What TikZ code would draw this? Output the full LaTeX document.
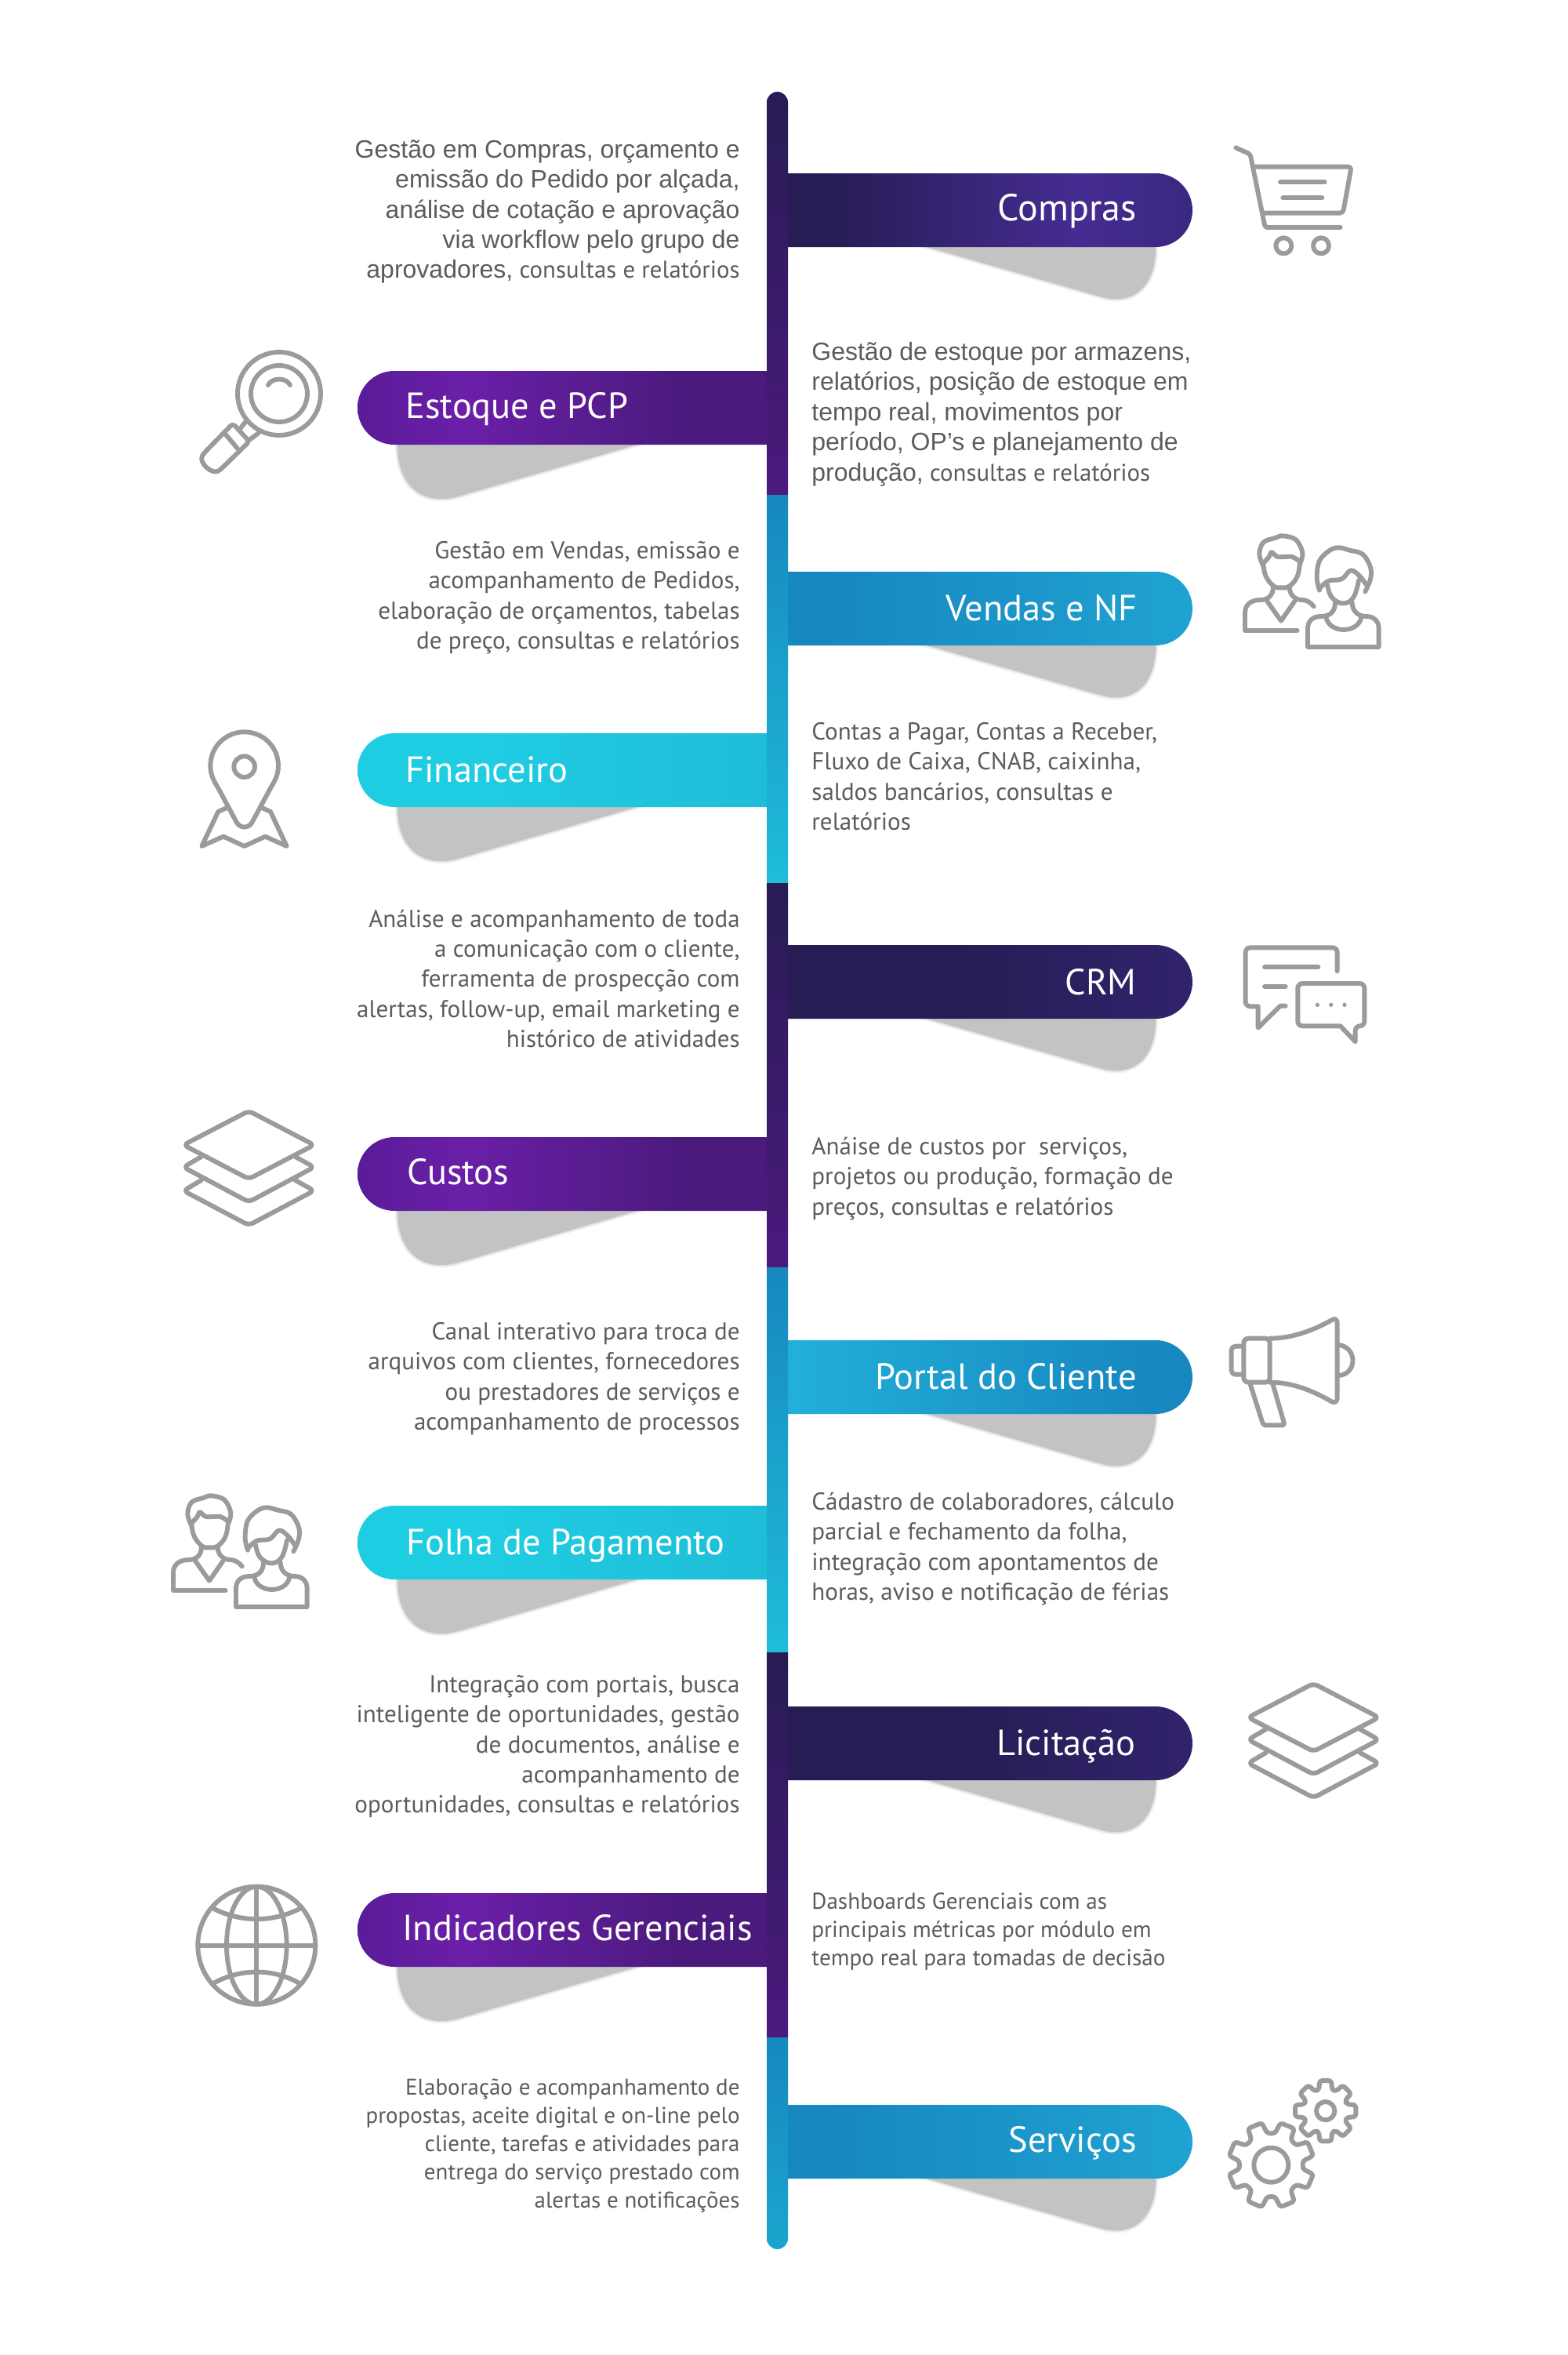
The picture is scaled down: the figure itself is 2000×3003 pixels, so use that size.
\documentclass[tikz,border=0pt]{standalone}
\usepackage{fontspec}
\setmainfont{PT Sans}
\newfontfamily\arialf{Liberation Sans}
\definecolor{icongray}{HTML}{9B9B9B}
\definecolor{shgray}{HTML}{C3C3C3}
\definecolor{txtgray}{HTML}{5C5C5C}
\definecolor{navyA}{HTML}{271C54}
\definecolor{navyB}{HTML}{452C92}
\definecolor{navyC}{HTML}{3A2880}
\definecolor{purA}{HTML}{4B1A7D}
\definecolor{purB}{HTML}{6A1FA8}
\definecolor{purC}{HTML}{5A1C98}
\definecolor{bluA}{HTML}{1787C0}
\definecolor{bluB}{HTML}{22B0D9}
\definecolor{bluC}{HTML}{1FA3D2}
\definecolor{cyaA}{HTML}{1FBDD8}
\definecolor{cyaB}{HTML}{1FCDE2}
\pgfdeclarehorizontalshading{barCompras}{100bp}{color(0bp)=(navyA);color(30bp)=(navyA);color(61bp)=(navyB);color(75bp)=(navyC);color(100bp)=(navyC)}
\pgfdeclarehorizontalshading{barCRM}{100bp}{color(0bp)=(navyA);color(45bp)=(navyA);color(75bp)=(navyC!55!navyA);color(100bp)=(navyC!55!navyA)}
\pgfdeclarehorizontalshading{barPurple}{100bp}{color(0bp)=(purC);color(25bp)=(purC);color(38bp)=(purB);color(65bp)=(purA);color(100bp)=(purA)}
\pgfdeclarehorizontalshading{barBlue}{100bp}{color(0bp)=(bluA);color(30bp)=(bluA);color(75bp)=(bluC);color(100bp)=(bluC)}
\pgfdeclarehorizontalshading{barBlueRev}{100bp}{color(0bp)=(bluB);color(25bp)=(bluB);color(70bp)=(bluA);color(100bp)=(bluA)}
\pgfdeclarehorizontalshading{barCyan}{100bp}{color(0bp)=(cyaB);color(40bp)=(cyaB);color(75bp)=(cyaA);color(100bp)=(cyaA)}
\tikzset{
  icon/.style={draw=icongray,line width=2.95pt,line cap=round,line join=round},
  zs/.style={shift={(#1)},x=0.16667pt,y=-0.16667pt},
  desc/.style={inner sep=0pt,text=txtgray,font=\fontsize{15.55}{19.2}\selectfont},
  descL/.style={desc,anchor=west,align=left},
  descR/.style={desc,anchor=east,align=right},
  barlabel/.style={inner sep=0pt,text=white,font=\fontsize{23.2}{28}\selectfont},
  shadowsoft/.style={draw=shgray,draw opacity=.22,line width=3.2pt},
  shadowfill/.style={fill=shgray,draw=shgray,draw opacity=.4,line width=1.4pt},
}
\newcommand{\ar}[1]{{\arialf\fontsize{16}{19.2}\selectfont #1}}
\newcommand{\trunkseg}[4]{\path[top color=#3,bottom color=#4] (978,#1) rectangle (1005,#2);}
\newcommand{\rightshadow}[1]{%
  \path[shadowsoft] (1183,#1+47) -- (1403,#1+110) .. controls (1443,#1+122) and (1474,#1+100) .. (1474,#1+47) -- cycle;
  \path[shadowfill] (1183,#1+47) -- (1403,#1+110) .. controls (1443,#1+122) and (1474,#1+100) .. (1474,#1+47) -- cycle;}
\newcommand{\leftshadow}[1]{%
  \path[shadowsoft] (812,#1+47) -- (584,#1+113) .. controls (539,#1+125) and (507,#1+100) .. (507,#1+47) -- cycle;
  \path[shadowfill] (812,#1+47) -- (584,#1+113) .. controls (539,#1+125) and (507,#1+100) .. (507,#1+47) -- cycle;}
\newcommand{\rightbar}[6]{%
  \rightshadow{#2}
  \path[shade,shading=#3] (1005,#2-47) [rounded corners=23.5pt] -- (1521,#2-47) -- (1521,#2+47) [sharp corners] -- (1005,#2+47) -- cycle;
  \node[barlabel,anchor=base east] (#1) at (#4,#2+#6) {#5};}
\newcommand{\leftbar}[6]{%
  \leftshadow{#2}
  \path[shade,shading=#3] (978,#2-47) [rounded corners=23.5pt] -- (456,#2-47) -- (456,#2+47) [sharp corners] -- (978,#2+47) -- cycle;
  \node[barlabel,anchor=base west] (#1) at (#4,#2+#6) {#5};}
\newcommand{\peopleicon}[1]{\begin{scope}[zs={#1}]
  \draw[icon] plot[smooth,tension=.6] coordinates {(190,185)(175,140)(190,95)(235,78)(265,70)(315,85)(340,135)(330,178)};
  \draw[icon] plot[smooth,tension=.5] coordinates {(190,175)(212,150)(222,132)(245,150)(300,150)(332,170)};
  \draw[icon] plot[smooth,tension=.7] coordinates {(190,180)(200,225)(230,262)(258,268)(290,262)(320,225)(330,170)};
  \draw[icon] (228,265) .. controls (228,295) and (210,315) .. (180,315) .. controls (140,315) and (120,335) .. (120,365) -- (120,432) -- (320,432);
  \draw[icon] (290,265) .. controls (290,295) and (310,315) .. (340,315) .. controls (355,315) and (372,325) .. (383,340);
  \draw[icon] (205,320) -- (258,395) -- (310,320);
  \draw[icon] plot[smooth,tension=.6] coordinates {(405,278)(395,230)(405,165)(445,125)(480,115)(520,125)(570,140)(600,190)(600,235)(580,283)};
  \draw[icon] plot[smooth,tension=.6] coordinates {(408,268)(440,242)(490,235)(525,202)(560,225)(582,255)};
  \draw[icon] plot[smooth,tension=.7] coordinates {(435,258)(452,305)(495,328)(535,305)(555,240)};
  \draw[icon] (465,325) .. controls (465,355) and (450,378) .. (410,378) .. controls (380,378) and (360,395) .. (360,425) -- (360,495) -- (632,495) -- (632,425) .. controls (632,395) and (612,378) .. (585,378) .. controls (550,378) and (530,355) .. (530,325);
  \draw[icon] (430,380) .. controls (440,445) and (555,445) .. (565,380);
\end{scope}}
\newcommand{\layersicon}[1]{\begin{scope}[zs={#1}]
  \draw[icon,rounded corners=3pt] (262,50) -- (512,180) -- (262,310) -- (12,180) -- cycle;
  \draw[icon] (80,225) [rounded corners=3pt] -- (12,265) -- (262,398) -- (512,265) [sharp corners] -- (440,225);
  \draw[icon] (80,315) [rounded corners=3pt] -- (12,355) -- (262,487) -- (512,355) [sharp corners] -- (440,315);
\end{scope}}
\newcommand{\gearicon}[6]{\begin{scope}[shift={(#1,#2)}]
  \draw[icon,rounded corners=1.6pt] ({#6-#5*1.55}:#4)
    \foreach \k in {0,...,7}{ -- ({#6+45*\k-#5*1.55}:#4) -- ({#6+45*\k-#5}:#3) -- ({#6+45*\k+#5}:#3) -- ({#6+45*\k+#5*1.55}:#4)} -- cycle;
\end{scope}}
\begin{document}
\begin{tikzpicture}[x=0.5pt,y=-0.5pt]
\path[use as bounding box,fill=white] (0,0) rectangle (2000,3003);
% shadows + bars
\rightbar{compras}{268}{barCompras}{1450}{{\fontsize{24}{28}\selectfont Compras}}{13}
\leftbar{estoque}{520}{barPurple}{517}{Estoque e PCP}{13}
\rightbar{vendas}{776}{barBlue}{1451}{Vendas e NF}{15}
\leftbar{financeiro}{982}{barCyan}{517}{Financeiro}{15}
\rightbar{crm}{1252}{barCRM}{1450}{CRM}{16}
\leftbar{custos}{1497}{barPurple}{519}{Custos}{13}
\rightbar{portal}{1756}{barBlueRev}{1450}{Portal do Cliente}{15}
\leftbar{folha}{1967}{barCyan}{518}{Folha de Pagamento}{15}
\rightbar{licitacao}{2223}{barCRM}{1449}{Licitação}{15}
\leftbar{indicadores}{2461}{barPurple}{513}{Indicadores Gerenciais}{13}
\rightbar{servicos}{2731}{barBlue}{1450}{Serviços}{13}
% trunk
\path[top color=navyA,bottom color=purA] (978,631) [rounded corners=6.8pt] -- (978,117) -- (1005,117) [sharp corners] -- (1005,631) -- cycle;
\trunkseg{631}{1126}{bluA}{cyaA}
\trunkseg{1126}{1616}{navyA}{purA}
\trunkseg{1616}{2107}{bluA}{cyaA}
\trunkseg{2107}{2598}{navyA}{purA}
\path[top color=bluA,bottom color=cyaA!55!bluA] (978,2598) -- (1005,2598) [rounded corners=6.8pt] -- (1005,2868) -- (978,2868) [sharp corners] -- cycle;
% descriptions
\node[descR] (d1) at (944,270) {\ar{Gestão em Compras, orçamento e}\\\ar{emissão do Pedido por alçada,}\\\ar{análise de cotação e aprovação}\\\ar{via workflow pelo grupo de}\\\ar{aprovadores,} {\fontsize{15.4}{19.2}\selectfont consultas e relatórios}};
\node[descL] (d2) at (1035,528) {\ar{Gestão de estoque por armazens,}\\\ar{relatórios, posição de estoque em}\\\ar{tempo real, movimentos por}\\\ar{período, OP’s e planejamento de}\\\ar{produção,} {\fontsize{15.4}{19.2}\selectfont consultas e relatórios}};
\node[descR] (d3) at (944,762) {Gestão em Vendas, emissão e\\acompanhamento de Pedidos,\\elaboração de orçamentos, tabelas\\de preço, consultas e relatórios};
\node[descL] (d4) at (1035,990) {Contas a Pagar, Contas a Receber,\\Fluxo de Caixa, CNAB, caixinha,\\saldos bancários, consultas e\\relatórios};
\node[descR,font=\fontsize{15.5}{19.2}\selectfont] (d5) at (944,1248) {Análise e acompanhamento de toda\\a comunicação com o cliente,\\ferramenta de prospecção com\\alertas, follow-up, email marketing e\\histórico de atividades};
\node[descL] (d6) at (1035,1503) {Anáise de custos por\ \ serviços,\\projetos ou produção, formação de\\preços, consultas e relatórios};
\node[descR] (d7) at (944,1758) {Canal interativo para troca de\\arquivos com clientes, fornecedores\\ou prestadores de serviços e\\acompanhamento de processos};
\node[descL] (d8) at (1035,1975) {Cádastro de colaboradores, cálculo\\parcial e fechamento da folha,\\integração com apontamentos de\\horas, aviso e notificação de férias};
\node[descR] (d9) at (944,2227) {Integração com portais, busca\\inteligente de oportunidades, gestão\\de documentos, análise e\\acompanhamento de\\oportunidades, consultas e relatórios};
\node[descL,font=\fontsize{14.6}{18.2}\selectfont] (d10) at (1035,2463) {Dashboards Gerenciais com as\\principais métricas por módulo em\\tempo real para tomadas de decisão};
\node[descR,font=\fontsize{14.5}{18}\selectfont] (d11) at (944,2736) {Elaboração e acompanhamento de\\propostas, aceite digital e on-line pelo\\cliente, tarefas e atividades para\\entrega do serviço prestado com\\alertas e notificações};
% cart
\begin{scope}[zs={1548,160}]
  \draw[icon,rounded corners=1.5pt] (85,85) -- (140,110) -- (197,390) -- (485,390);
  \draw[icon,rounded corners=2pt] (155,158) -- (527,158) -- (495,335) -- (190,335);
  \draw[icon] (255,217) -- (425,217) (265,277) -- (415,277);
  \draw[icon] (268,460) circle[radius=30] (411,460) circle[radius=30];
\end{scope}
% magnifier
\draw[icon] (356,502) circle[radius=53] (356,502) circle[radius=36];
\draw[icon] (342,491) .. controls (347,481) and (365,481) .. (370,491);
\draw[icon,rounded corners=2pt] (297,540) -- (318,563) -- (282,598) .. controls (271,606) and (253,590) .. (260,578) -- cycle;
\draw[icon] (287,553) -- (303,572) (314,537) -- (306,547) (330,552) -- (318,561);
% people
\peopleicon{1548,660}
\peopleicon{181,1884}
% pin
\begin{scope}[zs={220,900}]
  \draw[icon] (275,100) .. controls (205,100) and (145,155) .. (145,230) .. controls (145,265) and (160,290) .. (175,315) -- (245,445) .. controls (258,470) and (292,470) .. (305,445) -- (375,315) .. controls (390,290) and (405,265) .. (405,230) .. controls (405,155) and (345,100) .. (275,100) -- cycle;
  \draw[icon] (275,233) circle[radius=40];
  \draw[icon] (208,390) -- (175,405) -- (112,537) -- (195,500) -- (275,537) -- (355,500) -- (437,537) -- (375,405) -- (342,390);
\end{scope}
% chat
\begin{scope}[zs={1548,1180}]
  \draw[icon] (473,175) [rounded corners=3pt] -- (473,85) -- (122,85) -- (122,310) [sharp corners] -- (170,310) -- (170,392) -- (255,308) -- (275,308);
  \draw[icon] (195,160) -- (400,160) (195,234) -- (275,234);
  \draw[icon,rounded corners=3pt] (322,222) -- (577,222) -- (577,385) -- (542,385) [sharp corners] -- (542,445) -- (485,385) [rounded corners=3pt] -- (322,385) -- cycle;
  \foreach \xx in {397,449,501}{\fill[icongray] (\xx,304) circle[radius=8];}
\end{scope}
% layers
\layersicon{230,1400}
\layersicon{1588,2130}
% megaphone
\begin{scope}[zs={1548,1660}]
  \draw[icon] (215,140) .. controls (300,140) and (380,110) .. (455,68) .. controls (465,62) and (473,70) .. (473,80) -- (473,370) .. controls (473,382) and (462,388) .. (452,382) .. controls (380,340) and (300,308) .. (215,308);
  \draw[icon,rounded corners=3pt] (215,140) -- (115,140) -- (115,308) -- (215,308) -- cycle;
  \draw[icon,rounded corners=2.5pt] (115,170) -- (68,170) -- (68,278) -- (115,278);
  \draw[icon,rounded corners=1.5pt] (140,315) -- (190,472) -- (272,472) -- (225,310);
  \draw[icon] (480,165) .. controls (550,175) and (550,275) .. (480,282);
\end{scope}
% gears
\begin{scope}[zs={1548,2640}]
  \gearicon{220}{362}{165}{122}{10}{22.5}
  \draw[icon] (220,362) circle[radius=66];
  \gearicon{428}{155}{118}{85}{11}{0}
  \draw[icon] (428,155) circle[radius=35];
\end{scope}
% globe
\begin{scope}[zs={230,2390}]
  \draw[icon] (292,272) circle[radius=225];
  \draw[icon] (292,272) ellipse[x radius=115,y radius=225];
  \draw[icon] (292,48) -- (292,495) (68,272) -- (517,272);
  \draw[icon] (125,130) .. controls (230,185) and (355,185) .. (460,130);
  \draw[icon] (130,415) .. controls (230,360) and (355,360) .. (452,415);
\end{scope}
\end{tikzpicture}
\end{document}
